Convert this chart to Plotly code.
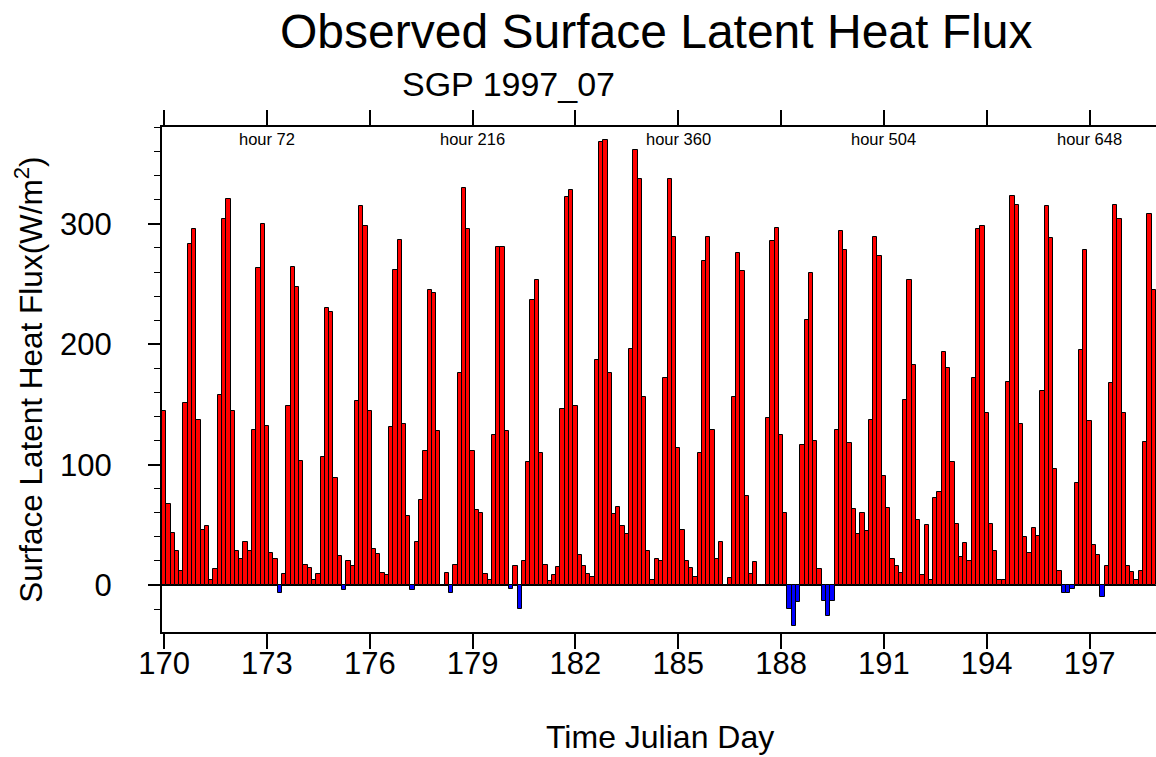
import plotly.graph_objects as go

# ---- data (3-hourly observed surface latent heat flux, W/m^2) ----
start_day = 170
steps_per_day = 8

flux_170_176 = [
    145, 67, 43, 28, 12, 151, 283, 296,
    137, 46, 49, 4, 13, 158, 304, 321,
    145, 28, 22, 36, 28, 129, 263, 300,
    132, 27, 22, -7, 9, 149, 264, 248,
    103, 17, 14, 4, 9, 106, 230, 227,
    89, 24, -4, 20, 16, 153, 315, 298,
    145, 30, 26, 10, 8, 131, 262, 287,
]
flux_177_183 = [
    134, 57, -4, 36, 71, 111, 245, 243,
    128, 0, 10, -7, 17, 176, 330, 296,
    111, 62, 60, 9, 4, 125, 281, 281,
    128, -3, 16, -20, 20, 102, 237, 253,
    110, 17, 3, 8, 15, 146, 322, 328,
    149, 25, 16, 9, 7, 187, 368, 370,
    176, 59, 65, 49, 42, 196, 361, 337,
]
flux_184_190 = [
    156, 28, 4, 22, 20, 172, 337, 289,
    114, 46, 20, 14, 7, 110, 269, 289,
    129, 22, 36, 0, 6, 156, 276, 261,
    74, 9, 19, 0, -1, 139, 286, 297,
    125, 60, -20, -34, -14, 116, 220, 259,
    120, 13, -13, -26, -13, 129, 294, 278,
    118, 63, 42, 60, 45, 137, 289, 273,
]
flux_191_198 = [
    91, 64, 22, 16, 10, 154, 253, 183,
    54, 8, 50, 4, 72, 77, 194, 180,
    102, 51, 23, 35, 20, 172, 296, 298,
    143, 51, 28, 4, 4, 169, 323, 316,
    134, 40, 27, 47, 41, 161, 315, 288,
    96, 12, -7, -7, -3, 85, 195, 278,
    136, 33, 25, -10, 16, 168, 316, 304,
    143, 16, 11, 4, 12, 119, 308, 245,
]

tick_days = [170, 173, 176, 179, 182, 185, 188, 191, 194, 197]
tick_labels = [str(d) for d in tick_days]
hour_days = [173, 179, 185, 191, 197]
hour_labels = ["hour 72", "hour 216", "hour 360", "hour 504", "hour 648"]
y_ticks = [0, 100, 200, 300]

flux = flux_170_176 + flux_177_183 + flux_184_190 + flux_191_198
time = [start_day + i / steps_per_day for i in range(len(flux))]
colors = ["#ff0000" if v >= 0 else "#0000ff" for v in flux]

FONT = "Liberation Sans, Arial, Helvetica, sans-serif"

fig = go.Figure(
    go.Bar(
        x=time,
        y=flux,
        width=1 / steps_per_day,
        marker=dict(color=colors, line=dict(color="black", width=1)),
        hoverinfo="x+y",
    )
)

fig.update_layout(
    width=1156,
    height=757,
    margin=dict(l=162, r=0, t=127, b=125),
    plot_bgcolor="white",
    paper_bgcolor="white",
    showlegend=False,
    bargap=0,
    font=dict(family=FONT, color="black"),
)

fig.update_xaxes(
    range=[169.9375, 198.94],
    tickmode="array",
    tickvals=tick_days,
    ticktext=tick_labels,
    ticks="outside",
    ticklen=15,
    tickwidth=1.5,
    tickcolor="black",
    showline=True,
    linecolor="black",
    linewidth=2,
    mirror="ticks",
    showgrid=False,
    zeroline=False,
    tickfont=dict(size=31, family=FONT, color="black"),
    ticklabelstandoff=-12,
)

fig.update_yaxes(
    range=[-39, 380.5],
    tickmode="array",
    tickvals=y_ticks,
    ticks="outside",
    ticklen=12,
    tickwidth=1.5,
    tickcolor="black",
    showline=True,
    linecolor="black",
    linewidth=2,
    mirror=False,
    showgrid=False,
    zeroline=True,
    zerolinecolor="black",
    zerolinewidth=1,
    minor=dict(dtick=20, tick0=0, ticks="outside", ticklen=6, tickcolor="black", tickwidth=1),
    tickfont=dict(size=31, family=FONT, color="black"),
    ticklabelstandoff=30,
)

ann = [
    dict(text="Observed Surface Latent Heat Flux", x=0.497, y=1.19, xref="paper", yref="paper",
         xanchor="center", yanchor="middle", showarrow=False, font=dict(size=48, family=FONT)),
    dict(text="SGP 1997_07", x=0.349, y=1.085, xref="paper", yref="paper",
         xanchor="center", yanchor="middle", showarrow=False, font=dict(size=34, family=FONT)),
    dict(text="Surface Latent Heat Flux(W/m<sup>2</sup>)", x=-0.134, y=0.499, xref="paper", yref="paper",
         xanchor="center", yanchor="middle", textangle=-90, showarrow=False, font=dict(size=31.5, family=FONT)),
    dict(text="Time Julian Day", x=0.501, y=-0.208, xref="paper", yref="paper",
         xanchor="center", yanchor="middle", showarrow=False, font=dict(size=32, family=FONT)),
]
for d, lab in zip(hour_days, hour_labels):
    ann.append(dict(text=lab, x=d, y=0.976, xref="x", yref="paper", xanchor="center", yanchor="middle",
                    showarrow=False, font=dict(size=16.5, family=FONT)))
fig.update_layout(annotations=ann)

fig.write_html("out.html")
